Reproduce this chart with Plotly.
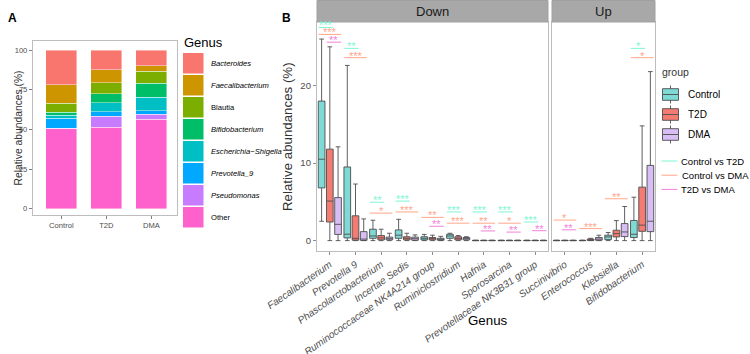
import plotly.graph_objects as go

W, H = 750, 354
FONT = "Liberation Sans"

# ---------------- Panel A data ----------------
groups = ["Control", "T2D", "DMA"]
genera_a = ["Bacteroides", "Faecalibacterium", "Blautia", "Bifidobacterium",
            "Escherichia−Shigella", "Prevotella_9", "Pseudomonas", "Other"]
italic_a = [True, True, False, True, True, True, True, False]
colors_a = ["#F8766D", "#CD9600", "#7CAE00", "#00BE67", "#00BFC4", "#00A9FF", "#C77CFF", "#FF61CC"]
ab_bacteroides = [21.9, 12.4, 9.9]
ab_faecalibacterium = [11.5, 8.2, 3.5]
ab_blautia = [5.9, 6.9, 7.4]
ab_bifidobacterium = [1.9, 5.7, 9.0]
ab_escherichia = [1.9, 5.7, 8.6]
ab_prevotella9 = [6.2, 2.9, 2.1]
ab_pseudomonas = [0.2, 6.9, 3.2]
ab_other = [50.5, 51.3, 56.3]
stack_a = [ab_bacteroides, ab_faecalibacterium, ab_blautia, ab_bifidobacterium,
           ab_escherichia, ab_prevotella9, ab_pseudomonas, ab_other]
yticks_a = [0, 25, 50, 75, 100]

# ---------------- Panel B data ----------------
down_genera = ["Faecalibacterium", "Prevotella 9", "Phascolarctobacterium", "Incertae Sedis",
               "Ruminococcaceae NK4A214 group", "Ruminiclostridium", "Hafnia", "Sporosarcina",
               "Prevotellaceae NK3B31 group"]
up_genera = ["Succinivibrio", "Enterococcus", "Klebsiella", "Bifidobacterium"]
yticks_b = [0, 10, 20]

# Down facet, per group: lower, q1, median, q3, upper
ctl_down_low = [2.5, 0, 0, 0, 0, 0, 0, 0, 0]
ctl_down_q1 = [6.8, 0.35, 0.3, 0.3, 0.09, 0.3, 0, 0, 0]
ctl_down_med = [10.5, 0.83, 0.6, 0.7, 0.3, 0.6, 0.01, 0.01, 0.01]
ctl_down_q3 = [18.0, 9.5, 1.47, 1.38, 0.5, 0.82, 0.03, 0.03, 0.03]
ctl_down_up = [26.0, 22.6, 2.63, 2.75, 0.8, 0.95, 0.06, 0.06, 0.06]

t2d_down_low = [0, 0, 0, 0, 0, 0, 0, 0, 0]
t2d_down_q1 = [2.4, 0.06, 0.1, 0.1, 0.1, 0.1, 0, 0, 0]
t2d_down_med = [5.1, 0.3, 0.35, 0.3, 0.25, 0.3, 0.01, 0.01, 0.01]
t2d_down_q3 = [11.8, 3.2, 0.65, 0.5, 0.4, 0.5, 0.03, 0.03, 0.03]
t2d_down_up = [25.0, 7.3, 1.47, 0.95, 0.7, 0.65, 0.06, 0.06, 0.06]

dma_down_low = [0, 0, 0, 0, 0, 0, 0, 0, 0]
dma_down_q1 = [0.8, 0.03, 0.1, 0.05, 0.05, 0.1, 0, 0, 0]
dma_down_med = [2.1, 0.2, 0.25, 0.25, 0.15, 0.25, 0.01, 0.01, 0.01]
dma_down_q3 = [5.55, 1.16, 0.45, 0.45, 0.3, 0.4, 0.03, 0.03, 0.03]
dma_down_up = [12.1, 2.8, 0.95, 0.74, 0.55, 0.5, 0.06, 0.06, 0.06]

# Up facet
ctl_up_low = [0, 0, 0, 0]
ctl_up_q1 = [0, 0, 0.13, 0.4]
ctl_up_med = [0.01, 0.01, 0.48, 0.82]
ctl_up_q3 = [0.03, 0.03, 0.7, 2.6]
ctl_up_up = [0.06, 0.06, 1.05, 5.6]

t2d_up_low = [0, 0, 0, 0]
t2d_up_q1 = [0, 0.03, 0.48, 1.2]
t2d_up_med = [0.01, 0.1, 0.9, 2.0]
t2d_up_q3 = [0.03, 0.2, 1.34, 6.9]
t2d_up_up = [0.06, 0.3, 2.58, 14.8]

dma_up_low = [0, 0, 0, 0]
dma_up_q1 = [0, 0.05, 0.52, 1.16]
dma_up_med = [0.01, 0.2, 1.12, 2.5]
dma_up_q3 = [0.03, 0.4, 2.2, 9.7]
dma_up_up = [0.06, 0.7, 4.4, 21.8]

box_fill = {"Control": "#7FD9D5", "T2D": "#F47B72", "DMA": "#D7BFF6"}

# Significance annotations
sig_facet = ["Down"] * 21 + ["Up"] * 6
sig_genus = ["Faecalibacterium"] * 3 + ["Prevotella 9"] * 2 + ["Phascolarctobacterium"] * 2 + \
            ["Incertae Sedis"] * 2 + ["Ruminococcaceae NK4A214 group"] * 2 + ["Ruminiclostridium"] * 2 + \
            ["Hafnia"] * 3 + ["Sporosarcina"] * 3 + ["Prevotellaceae NK3B31 group"] * 2 + \
            ["Succinivibrio"] * 2 + ["Enterococcus"] + ["Klebsiella"] + ["Bifidobacterium"] * 2
sig_comp = ["CvT", "CvD", "TvD", "CvT", "CvD", "CvT", "CvD", "CvT", "CvD", "CvD", "TvD",
            "CvT", "CvD", "CvT", "CvD", "TvD", "CvT", "CvD", "TvD", "CvT", "TvD",
            "CvD", "TvD", "CvD", "CvD", "CvT", "CvD"]
sig_y = [27.5, 26.6, 25.6, 24.8, 23.6, 4.95, 3.55, 5.1, 3.7, 3.0, 1.85,
         3.7, 2.25, 3.7, 2.25, 1.25, 3.7, 2.25, 1.1, 2.4, 1.28,
         2.65, 1.4, 1.55, 5.4, 24.8, 23.6]
sig_stars = ["***", "***", "**", "**", "***", "**", "*", "***", "***", "**", "**",
             "***", "***", "***", "**", "**", "***", "*", "**", "***", "**",
             "*", "**", "***", "**", "*", "*"]
comp_names = {"CvT": "Control vs T2D", "CvD": "Control vs DMA", "TvD": "T2D vs DMA"}
comp_colors = {"CvT": "#7FF5D6", "CvD": "#FFA689", "TvD": "#F27FDB"}
comp_span = {"CvT": (-0.44, 0.12), "CvD": (-0.44, 0.44), "TvD": (-0.12, 0.44)}


def px(x):
    return x / W


def py(y):
    return 1 - y / H


fig = go.Figure()

# ---------------- Panel A bars ----------------
for name, vals, col, it in reversed(list(zip(genera_a, stack_a, colors_a, italic_a))):
    fig.add_trace(go.Bar(x=groups, y=vals, name=name,
                         marker=dict(color=col, line=dict(color="rgba(255,255,255,0.7)", width=0.6)),
                         width=0.69, xaxis="x3", yaxis="y3", showlegend=False, hoverinfo="skip"))

# ---------------- Panel B boxes ----------------
box_sets = {
    "Control": [(ctl_down_low, ctl_down_q1, ctl_down_med, ctl_down_q3, ctl_down_up),
                (ctl_up_low, ctl_up_q1, ctl_up_med, ctl_up_q3, ctl_up_up)],
    "T2D": [(t2d_down_low, t2d_down_q1, t2d_down_med, t2d_down_q3, t2d_down_up),
            (t2d_up_low, t2d_up_q1, t2d_up_med, t2d_up_q3, t2d_up_up)],
    "DMA": [(dma_down_low, dma_down_q1, dma_down_med, dma_down_q3, dma_down_up),
            (dma_up_low, dma_up_q1, dma_up_med, dma_up_q3, dma_up_up)],
}
dodge = {"Control": -0.32, "T2D": 0.0, "DMA": 0.32}
for g in groups:
    for k, (xa, ya) in enumerate([("x", "y"), ("x2", "y2")]):
        low, q1, med, q3, up = box_sets[g][k]
        xs = [i + dodge[g] for i in range(len(med))]
        fig.add_trace(go.Box(x=xs, lowerfence=low, q1=q1, median=med, q3=q3, upperfence=up,
                             width=0.26, whiskerwidth=0.7, fillcolor=box_fill[g],
                             line=dict(color="#4D4D4D", width=0.9), xaxis=xa, yaxis=ya,
                             showlegend=False, hoverinfo="skip", boxpoints=False))

# ---------------- Significance lines and stars ----------------
for comp in ["CvT", "CvD", "TvD"]:
    for facet, genlist, xa, ya in [("Down", down_genera, "x", "y"), ("Up", up_genera, "x2", "y2")]:
        xs, ys = [], []
        for f, gname, c, yv in zip(sig_facet, sig_genus, sig_comp, sig_y):
            if f == facet and c == comp:
                i = genlist.index(gname)
                a, b = comp_span[c]
                xs += [i + a, i + b, None]
                ys += [yv, yv, None]
        if xs:
            fig.add_trace(go.Scatter(x=xs, y=ys, mode="lines", line=dict(color=comp_colors[comp], width=1),
                                     xaxis=xa, yaxis=ya, showlegend=False, hoverinfo="skip"))

annotations = []
for f, gname, c, yv, st in zip(sig_facet, sig_genus, sig_comp, sig_y, sig_stars):
    genlist = down_genera if f == "Down" else up_genera
    i = genlist.index(gname)
    a, b = comp_span[c]
    annotations.append(dict(x=i + (a + b) / 2, y=yv, xref="x" if f == "Down" else "x2",
                            yref="y" if f == "Down" else "y2", text=st, showarrow=False,
                            yanchor="middle", yshift=2, font=dict(size=11, color=comp_colors[c], family=FONT)))

shapes = []

# ---------------- Panel A legend (manual) ----------------
annotations.append(dict(x=px(182), y=py(42), xref="paper", yref="paper", text="Genus", showarrow=False,
                        xanchor="left", yanchor="middle", font=dict(size=13, color="black", family=FONT)))
for k, (name, col, it) in enumerate(zip(genera_a, colors_a, italic_a)):
    top = 53 + 22 * k
    shapes.append(dict(type="rect", xref="paper", yref="paper", x0=px(183), x1=px(203.5), y0=py(top),
                       y1=py(top + 20.5), fillcolor=col, line=dict(width=0)))
    annotations.append(dict(x=px(208.5), y=py(top + 10.3), xref="paper", yref="paper",
                            text=f"<i>{name}</i>" if it else name, showarrow=False, xanchor="left",
                            yanchor="middle", font=dict(size=7.6, color="black", family=FONT)))

# ---------------- Panel B legend (manual) ----------------
annotations.append(dict(x=px(660), y=py(72.5), xref="paper", yref="paper", text="group", showarrow=False,
                        xanchor="left", yanchor="middle", font=dict(size=10.5, color="#333333", family=FONT)))
for k, g in enumerate(groups):
    cy = 94.5 + 20 * k
    shapes.append(dict(type="line", xref="paper", yref="paper", x0=px(670.5), x1=px(670.5), y0=py(cy - 9),
                       y1=py(cy + 9), line=dict(color="#4D4D4D", width=0.9)))
    shapes.append(dict(type="rect", xref="paper", yref="paper", x0=px(662.5), x1=px(678.5), y0=py(cy - 5.8),
                       y1=py(cy + 5.8), fillcolor=box_fill[g], line=dict(color="#4D4D4D", width=0.9)))
    shapes.append(dict(type="line", xref="paper", yref="paper", x0=px(662.5), x1=px(678.5), y0=py(cy),
                       y1=py(cy), line=dict(color="#4D4D4D", width=0.9)))
    annotations.append(dict(x=px(686), y=py(cy), xref="paper", yref="paper", text=g, showarrow=False,
                            xanchor="left", yanchor="middle", font=dict(size=10, color="black", family=FONT)))
for k, c in enumerate(["CvT", "CvD", "TvD"]):
    cy = 161 + 14.2 * k
    shapes.append(dict(type="line", xref="paper", yref="paper", x0=px(661.5), x1=px(677.5), y0=py(cy),
                       y1=py(cy), line=dict(color=comp_colors[c], width=1)))
    annotations.append(dict(x=px(679.5 + (1.0 if c == "CvD" else 0)), y=py(cy), xref="paper", yref="paper",
                            text=comp_names[c], showarrow=False, xanchor="left", yanchor="middle",
                            borderpad=0, font=dict(size=9.5, color="black", family=FONT)))

# ---------------- Strips ----------------
for lbl, x0, x1 in [("Down", 317, 548), ("Up", 552, 655)]:
    shapes.append(dict(type="rect", xref="paper", yref="paper", x0=px(x0), x1=px(x1), y0=py(22), y1=py(0.5),
                       fillcolor="#A8A8A8", line=dict(color="#A0A0A0", width=1)))
    annotations.append(dict(x=px((x0 + x1) / 2), y=py(11.5), xref="paper", yref="paper", text=lbl,
                            showarrow=False, xanchor="center", yanchor="middle",
                            font=dict(size=13, color="#1A1A1A", family=FONT)))

# ---------------- Titles and panel labels ----------------
annotations += [
    dict(x=px(5.5), y=py(9), xref="paper", yref="paper", text="<b>A</b>", showarrow=False,
         font=dict(size=12, color="black", family=FONT)),
    dict(x=px(286), y=py(9), xref="paper", yref="paper", text="<b>B</b>", showarrow=False,
         font=dict(size=12, color="black", family=FONT)),
    dict(x=px(10), y=py(128), xref="paper", yref="paper", text="Relative abundances (%)", showarrow=False,
         textangle=-90, font=dict(size=10.3, color="#333333", family=FONT)),
    dict(x=px(288), y=py(137), xref="paper", yref="paper", text="Relative abundances (%)", showarrow=False,
         textangle=-90, font=dict(size=13.3, color="#333333", family=FONT)),
    dict(x=px(488), y=py(330), xref="paper", yref="paper", text="Genus", showarrow=False,
         font=dict(size=13.3, color="black", family=FONT)),
]

border = "#BDBDBD"
tickfont_b = dict(size=9.5, color="#4D4D4D", family=FONT)
xtickfont_b = dict(size=10, color="#4D4D4D", family=FONT)

fig.update_layout(
    template="none",
    width=W, height=H, margin=dict(l=0, r=0, t=0, b=0, autoexpand=False),
    paper_bgcolor="white", plot_bgcolor="white", showlegend=False,
    font=dict(family=FONT),
    barmode="stack",
    annotations=annotations, shapes=shapes,
    # Panel A
    xaxis3=dict(domain=[px(33), px(177)], anchor="y3", type="category", range=[-0.63, 2.57], automargin=False,
                showline=True, mirror=True, linecolor=border, linewidth=1.3, ticks="outside", ticklen=3,
                tickcolor="#7F7F7F", tickfont=dict(size=7.6, color="#4D4D4D", family=FONT), showgrid=False),
    yaxis3=dict(domain=[py(215), py(41)], anchor="x3", range=[-4.0, 105.7], tickvals=yticks_a, automargin=False,
                showline=True, mirror=True, linecolor=border, linewidth=1.3, ticks="outside", ticklen=3,
                tickcolor="#7F7F7F", tickfont=dict(size=7.6, color="#4D4D4D", family=FONT), showgrid=False,
                zeroline=False),
    # Panel B - Down
    xaxis=dict(domain=[px(317), px(548)], anchor="y", range=[-0.5, len(down_genera) - 0.5], automargin=False,
               tickvals=list(range(len(down_genera))), ticktext=[f"<i>{g}</i>" for g in down_genera],
               tickangle=-35, showline=True, mirror=True, linecolor=border, linewidth=1.3, ticks="outside",
               ticklen=3, tickcolor="#8C8C8C", tickfont=xtickfont_b, showgrid=False, zeroline=False),
    yaxis=dict(domain=[py(250.7), py(22)], anchor="x", range=[-1.3, 28.2], tickvals=yticks_b, automargin=False,
               showline=True, mirror=True, linecolor=border, linewidth=1.3, ticks="outside", ticklen=3,
               tickcolor="#8C8C8C", tickfont=tickfont_b, showgrid=False, zeroline=False),
    # Panel B - Up
    xaxis2=dict(domain=[px(552), px(655)], anchor="y2", range=[-0.5, len(up_genera) - 0.5], automargin=False,
                tickvals=list(range(len(up_genera))), ticktext=[f"<i>{g}</i>" for g in up_genera],
                tickangle=-35, showline=True, mirror=True, linecolor=border, linewidth=1.3, ticks="outside",
                ticklen=3, tickcolor="#8C8C8C", tickfont=xtickfont_b, showgrid=False, zeroline=False),
    yaxis2=dict(domain=[py(250.7), py(22)], anchor="x2", matches="y", showticklabels=False, ticks="",
                automargin=False, showline=True, mirror=True, linecolor=border, linewidth=1.3, showgrid=False,
                zeroline=False),
)

fig.write_html("out.html", config={"displayModeBar": False},
               post_script="document.body.style.margin='0px';")
